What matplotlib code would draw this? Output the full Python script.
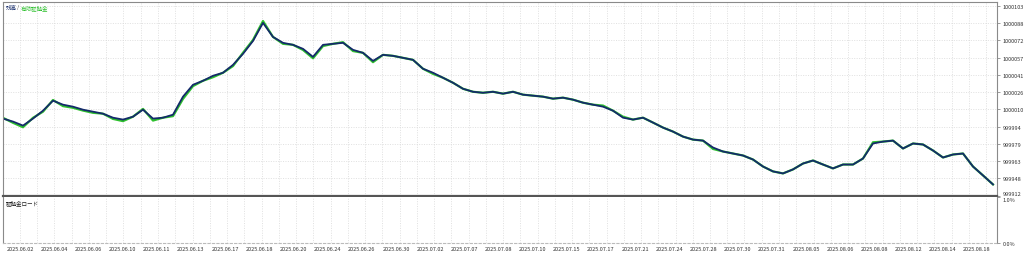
import numpy as np
import matplotlib.pyplot as plt
from matplotlib.ticker import FixedLocator, FixedFormatter

plt.rcParams['font.family'] = ['Noto Sans CJK JP', 'DejaVu Sans']

# balance curve, evenly spaced samples over the test period
balance = [1000001.8, 999999.1, 999995.5, 1000001.8, 1000008.9, 1000017.9, 1000014.3, 1000012.5,
           1000009.8, 1000008.0, 1000006.2, 1000002.6, 1000000.9, 1000003.5, 1000009.8, 1000001.8,
           1000002.6, 1000005.3, 1000021.5, 1000032.2, 1000035.8, 1000040.3, 1000043.0, 1000050.1,
           1000060.0, 1000071.6, 1000087.8, 1000075.2, 1000069.9, 1000068.1, 1000064.5, 1000057.3,
           1000068.1, 1000069.0, 1000069.9, 1000063.6, 1000060.9, 1000053.7, 1000059.1, 1000058.2,
           1000056.4, 1000054.6, 1000046.6, 1000043.0, 1000038.5, 1000034.0, 1000028.6, 1000025.9,
           1000025.0, 1000025.9, 1000024.2, 1000025.9, 1000023.3, 1000022.4, 1000021.5, 1000019.7,
           1000020.6, 1000018.8, 1000016.1, 1000014.3, 1000012.5, 1000008.9, 1000002.6, 1000000.9,
           1000002.6, 999998.2, 999993.7, 999990.1, 999985.6, 999982.9, 999982.0, 999975.8,
           999972.2, 999970.4, 999968.6, 999965.0, 999958.7, 999954.3, 999952.5, 999956.1,
           999961.4, 999964.1, 999960.5, 999957.0, 999960.5, 999960.5, 999965.9, 999979.4,
           999981.1, 999982.0, 999974.9, 999979.4, 999978.5, 999973.1, 999966.8, 999969.5,
           999970.4, 999958.7, 999950.7, 999942.6]

# equity curve (floating), mostly on top of balance
equity = [1000002.5, 999998.0, 999994.0, 1000002.5, 1000008.0, 1000018.5, 1000013.0, 1000011.5,
          1000009.0, 1000007.0, 1000006.2, 1000001.5, 999999.5, 1000003.5, 1000010.5, 1000000.0,
          1000002.6, 1000004.0, 1000019.5, 1000031.0, 1000035.8, 1000039.0, 1000043.0, 1000049.0,
          1000061.0, 1000072.5, 1000089.5, 1000075.2, 1000069.0, 1000068.1, 1000063.5, 1000056.0,
          1000067.0, 1000069.0, 1000070.5, 1000062.5, 1000060.9, 1000052.5, 1000059.1, 1000058.2,
          1000056.4, 1000054.6, 1000046.6, 1000042.0, 1000038.5, 1000034.0, 1000028.6, 1000025.9,
          1000025.0, 1000025.9, 1000024.2, 1000025.9, 1000023.3, 1000022.4, 1000021.5, 1000019.7,
          1000020.6, 1000018.8, 1000016.1, 1000014.3, 1000013.5, 1000008.9, 1000003.5, 1000000.9,
          1000002.6, 999998.2, 999993.7, 999990.1, 999985.6, 999982.9, 999982.0, 999974.5,
          999972.2, 999970.4, 999968.6, 999965.0, 999958.7, 999954.3, 999952.5, 999956.1,
          999961.4, 999964.1, 999960.5, 999957.0, 999960.5, 999960.5, 999965.9, 999980.5,
          999981.1, 999982.0, 999974.9, 999979.4, 999978.5, 999973.1, 999966.8, 999969.5,
          999970.4, 999958.7, 999950.7, 999942.6]

ytick_vals = [1000103, 1000087.5, 1000072, 1000056.5, 1000041, 1000025.5, 1000010,
              999994.5, 999979, 999963.5, 999948, 999932.5]
ytick_labels = ['1000103', '1000088', '1000072', '1000057', '1000041', '1000026', '1000010',
                '999994', '999979', '999963', '999948', '999912']

dates = ['2025.06.02', '2025.06.04', '2025.06.06', '2025.06.10', '2025.06.11', '2025.06.13',
         '2025.06.17', '2025.06.18', '2025.06.20', '2025.06.24', '2025.06.26', '2025.06.30',
         '2025.07.02', '2025.07.07', '2025.07.08', '2025.07.10', '2025.07.15', '2025.07.17',
         '2025.07.21', '2025.07.24', '2025.07.28', '2025.07.30', '2025.07.31', '2025.08.05',
         '2025.08.06', '2025.08.08', '2025.08.12', '2025.08.14', '2025.08.18']

W, H = 1024, 255
fig = plt.figure(figsize=(W / 100, H / 100), dpi=100)
fig.patch.set_facecolor('white')

def box(l, t, r, b):
    return [l / W, 1 - b / H, (r - l) / W, (b - t) / H]

ax = fig.add_axes(box(3, 3, 997, 197))
ax2 = fig.add_axes(box(3, 198, 997, 244), sharex=ax)

n = len(balance)
x = np.arange(n)
xmax = n - 1 + 0.4
grid_col = '#d6d6d6'
frame_col = '#8a8a8a'

ax.set_xlim(0, xmax)
ax.set_ylim(999932.2, 1000106.6)
ax.plot(x, equity, color='#2ec02e', lw=1.6, solid_joinstyle='round')
ax.plot(x, balance, color='#142a6a', lw=1.3, solid_joinstyle='round')

# grid: fixed pixel spacing like the terminal
vgrid = np.arange(1.7, xmax, 1.725)
for a in (ax, ax2):
    for gx in vgrid:
        a.axvline(gx, color=grid_col, lw=0.5, ls=(0, (1.5, 2)), zorder=0)
for v in ytick_vals[:-1]:
    ax.axhline(v, color=grid_col, lw=0.5, ls=(0, (1.5, 2)), zorder=0)

ax.yaxis.tick_right()
ax.yaxis.set_major_locator(FixedLocator(ytick_vals))
ax.yaxis.set_major_formatter(FixedFormatter(ytick_labels))
ax.tick_params(axis='y', labelsize=4, length=2, width=0.6, color=frame_col, pad=2, labelcolor='#333333')
ax.tick_params(axis='x', bottom=False, labelbottom=False)
for s in ax.spines.values():
    s.set_color(frame_col)
    s.set_linewidth(0.8)
ax.spines['bottom'].set_color('#555555')
ax.spines['bottom'].set_linewidth(1.6)

ax2.set_ylim(0, 1)
ax2.yaxis.tick_right()
ax2.set_yticks([1, 0])
ax2.set_yticklabels(['1.0%', '0.0%'])
ax2.tick_params(axis='y', labelsize=4, length=2, width=0.6, color=frame_col, pad=2, labelcolor='#333333')
ax2.set_xticks(np.linspace(1.7, 97.4, len(dates)))
ax2.set_xticklabels(dates)
ax2.tick_params(axis='x', labelsize=4, length=0, pad=2, labelcolor='#333333')
for s in ax2.spines.values():
    s.set_color(frame_col)
    s.set_linewidth(0.8)
ax2.spines['top'].set_visible(False)
ax2.spines['bottom'].set_color('#bbbbbb')
ax2.spines['bottom'].set_linestyle((0, (2, 2)))

# keep the two labels at the pane border apart
fig.canvas.draw()
ax.get_yticklabels()[-1].set_verticalalignment('bottom')
ax2.get_yticklabels()[0].set_verticalalignment('top')

fig.text(6 / W, 1 - 8 / H, '残高', fontsize=4, color='#142a6a', va='center', ha='left')
fig.text(17 / W, 1 - 8 / H, '/', fontsize=4, color='#555555', va='center', ha='left')
fig.text(21 / W, 1 - 8 / H, '有効証拠金', fontsize=4, color='#2ec02e', va='center', ha='left')
fig.text(6 / W, 1 - 203 / H, '証拠金ロード', fontsize=4, color='#222222', va='center', ha='left')

fig.savefig('out.png', dpi=100)
